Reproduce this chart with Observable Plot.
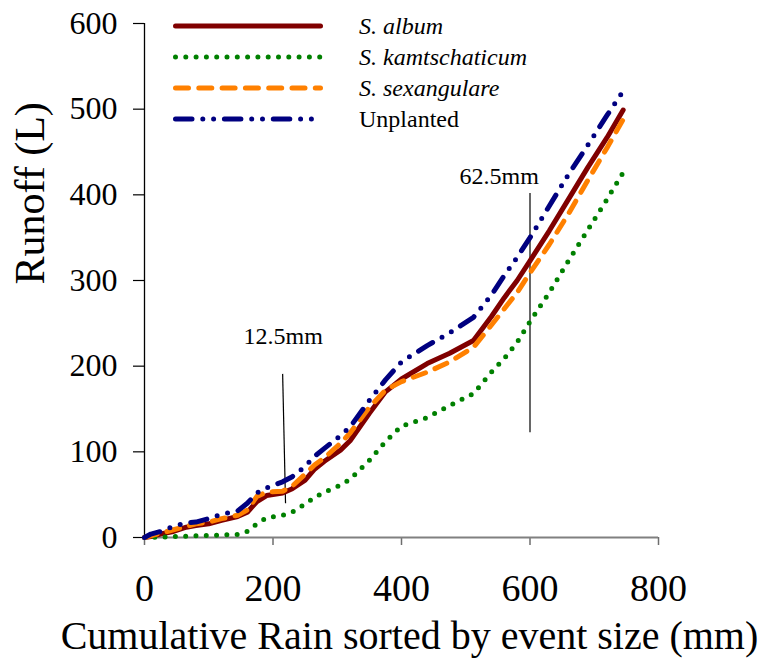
<!DOCTYPE html>
<html>
<head>
<meta charset="utf-8">
<script src="https://cdn.jsdelivr.net/npm/d3@7"></script>
<script src="https://cdn.jsdelivr.net/npm/@observablehq/plot@0.6"></script>
<style>
  html, body { margin: 0; padding: 0; background: #fff; }
  #wrap { position: relative; width: 771px; height: 669px; }
  #legend { position: absolute; left: 0; top: 0; }
  #wrap svg, #wrap svg text { font-family: "Liberation Serif", "Times New Roman", serif; }
</style>
</head>
<body>
<div id="wrap"></div>
<script>
// Cumulative rain (mm), sorted by event size
const rain = [0, 10, 25, 45, 65, 80, 100, 120, 145, 160, 175, 190, 215, 230, 250, 265, 280, 305, 320, 350, 375, 400, 440, 475, 512, 540, 560, 580, 600, 630, 660, 690, 720, 745];
// Cumulative runoff (L)
const album       = [0, 1, 4, 7, 12, 14, 16, 20, 24.5, 29.5, 42, 49, 52, 57, 67, 80, 89, 102, 113, 145, 170, 185, 203, 215, 230, 258, 280, 300, 323, 358, 395, 432, 467, 499];
const kamtschaticum = [0, 0, 0.5, 1, 1.5, 2, 2.3, 3, 3.5, 7, 16, 23, 26, 29.5, 39, 47, 53, 61, 68, 90, 112, 130, 140, 154, 168, 193, 209, 228, 252, 286, 323, 359, 395, 426];
const sexangulare = [0, 2, 5, 9, 13, 16, 18, 22, 26, 32, 48, 53, 54, 60, 74, 85, 93, 110, 122, 152, 172, 182, 193, 205, 222, 248, 267, 286, 309, 342, 378, 417, 455, 488];
const unplanted   = [0, 4, 7, 13, 17, 18, 22, 27, 31, 40, 52, 58, 65, 71, 83, 95, 104, 119, 129, 160, 184, 205, 224, 239, 257, 283, 306, 327, 350, 387, 424, 458, 493, 521];

const seriesNames = ["S. album", "S. kamtschaticum", "S. sexangulare", "Unplanted"];
const seriesValues = [album, kamtschaticum, sexangulare, unplanted];
const seriesItalic = [true, true, true, false];

const xTicks = [0, 200, 400, 600, 800];
const yTicks = [0, 100, 200, 300, 400, 500, 600];

// Annotations: threshold markers (rain mm, runoff L)
const annotLabels = ["12.5mm", "62.5mm"];
const annotLabelX = [216, 552];
const annotLabelY = [226, 413];
const annotX1 = [215, 600];
const annotY1 = [191, 402];
const annotX2 = [219.5, 600];
const annotY2 = [40, 123];

const styles = [
  {stroke: "#800000", dash: null},
  {stroke: "#008000", dash: "0 10.3"},
  {stroke: "#FF8000", dash: "13 10.3"},
  {stroke: "#000080", dash: "16.5 10.8 0 10.8 0 10.8"}
];

const font = "Liberation Serif";

const lineMarks = seriesNames.map((name, i) => {
  const data = rain.map((r, j) => ({rain: r, runoff: seriesValues[i][j]}));
  return Plot.line(data, {
    x: "rain", y: "runoff",
    stroke: styles[i].stroke,
    strokeWidth: 5,
    strokeDasharray: styles[i].dash || undefined,
    strokeLinecap: "round",
    strokeLinejoin: "round"
  });
});

const annots = annotLabels.map((t, i) => ({
  t, lx: annotLabelX[i], ly: annotLabelY[i],
  x1: annotX1[i], y1: annotY1[i], x2: annotX2[i], y2: annotY2[i]
}));

const W = 771, H = 669;
const chart = Plot.plot({
  width: W,
  height: H,
  marginLeft: 144,
  marginRight: 113,
  marginTop: 23,
  marginBottom: 132,
  style: {fontFamily: font, color: "black", background: "white"},
  x: {domain: [0, 800]},
  y: {domain: [0, 600]},
  marks: [
    Plot.axisX({ticks: xTicks, tickSize: 8, tickPadding: 29, fontSize: 38, fontFamily: font, label: null, stroke: "#6e6e6e", strokeWidth: 1.5, tickFormat: d3.format("d")}),
    Plot.axisY({ticks: yTicks, tickSize: 11, tickPadding: 16, fontSize: 32, fontFamily: font, label: null, strokeWidth: 1.2, tickFormat: d3.format("d")}),
    Plot.ruleY([0], {stroke: "#808080", strokeWidth: 2}),
    Plot.ruleX([0], {stroke: "black", strokeWidth: 1.3}),
    Plot.link(annots, {x1: "x1", y1: "y1", x2: "x2", y2: "y2", stroke: "black", strokeWidth: 1.2}),
    Plot.text(annots, {x: "lx", y: "ly", text: "t", fontSize: 24, fontFamily: font, lineAnchor: "bottom", fill: "black"}),
    ...lineMarks,
    Plot.text(["Runoff (L)"], {frameAnchor: "left", dx: -114, dy: 4, rotate: -90, fontSize: 42, fontFamily: font, fill: "black"}),
    Plot.text(["Cumulative Rain sorted by event size (mm)"], {frameAnchor: "bottom", dx: 8, dy: 111, fontSize: 40, fontFamily: font, fill: "black"})
  ]
});
document.getElementById("wrap").appendChild(chart);

// Legend overlay (inside the plot area, top left)
const lg = d3.select("#wrap").append("svg")
  .attr("id", "legend").attr("width", W).attr("height", 150);
const legX1 = 175.5, legX2 = 320.5, legTextX = 359, legTop = 26, legGap = 31;
seriesNames.forEach((name, i) => {
  const y = legTop + i * legGap;
  lg.append("line")
    .attr("x1", legX1).attr("x2", legX2).attr("y1", y).attr("y2", y)
    .attr("stroke", styles[i].stroke).attr("stroke-width", 5)
    .attr("stroke-linecap", "round")
    .attr("stroke-dasharray", styles[i].dash);
  lg.append("text")
    .attr("x", legTextX).attr("y", y).attr("dy", "0.35em")
    .attr("font-family", font).attr("font-size", 24)
    .attr("font-style", seriesItalic[i] ? "italic" : "normal")
    .attr("fill", "black")
    .text(name);
});
</script>
</body>
</html>
